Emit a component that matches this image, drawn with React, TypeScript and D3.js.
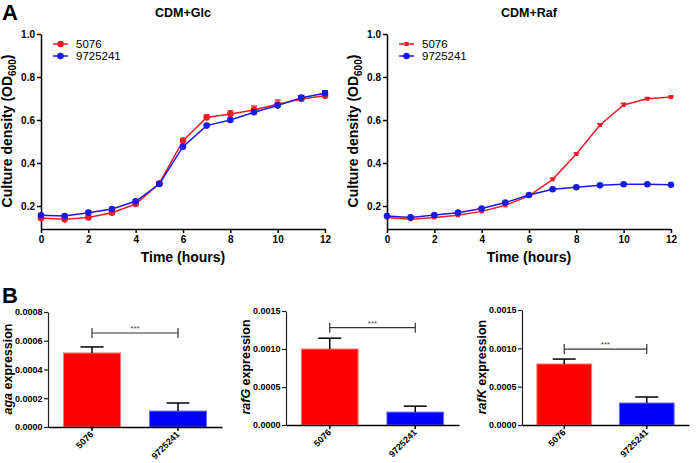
import React, { useEffect, useRef } from 'react'
import * as d3 from 'd3'

// growth curves, OD600 per hour
const hours = [0, 1, 2, 3, 4, 5, 6, 7, 8, 9, 10, 11, 12]
const glc5076 = [0.144, 0.138, 0.147, 0.169, 0.209, 0.305, 0.504, 0.612, 0.628, 0.647, 0.673, 0.698, 0.713]
const glc5076Err = [0.005, 0.005, 0.005, 0.005, 0.006, 0.007, 0.008, 0.011, 0.015, 0.018, 0.02, 0.012, 0.01]
const glc9725241 = [0.157, 0.153, 0.169, 0.186, 0.222, 0.302, 0.476, 0.574, 0.6, 0.636, 0.667, 0.704, 0.724]
const glc9725241Err = [0.004, 0.004, 0.004, 0.004, 0.005, 0.006, 0.007, 0.006, 0.008, 0.01, 0.011, 0.01, 0.012]
const raf5076 = [0.147, 0.138, 0.147, 0.157, 0.175, 0.203, 0.247, 0.324, 0.442, 0.577, 0.67, 0.699, 0.707]
const raf5076Err = [0.004, 0.004, 0.003, 0.003, 0.004, 0.004, 0.005, 0.005, 0.005, 0.005, 0.008, 0.004, 0.004]
const raf9725241 = [0.153, 0.147, 0.158, 0.169, 0.188, 0.216, 0.251, 0.278, 0.287, 0.296, 0.301, 0.301, 0.299]
const raf9725241Err = [0.004, 0.003, 0.003, 0.003, 0.004, 0.004, 0.004, 0.004, 0.004, 0.004, 0.004, 0.004, 0.004]
const densityTicks = [0.2, 0.4, 0.6, 0.8, 1.0]
const hourTicks = [0, 2, 4, 6, 8, 10, 12]

// expression bars
const strains = ['5076', '9725241']
const agaMean = [0.000515, 0.000111]
const agaErr = [0.000042, 0.000056]
const agaTicks = [0, 0.0002, 0.0004, 0.0006, 0.0008]
const rafGMean = [0.001, 0.00017]
const rafGErr = [0.000142, 0.000078]
const rafKMean = [0.000796, 0.000287]
const rafKErr = [0.000064, 0.000078]
const rafTicks = [0, 0.0005, 0.001, 0.0015]
const bracketLevels = [0.000654, 0.00128, 0.00099]

const RED = '#ee1c24'
const BLUE = '#1a1ae6'
const FONT = 'Liberation Sans, Arial, Helvetica, sans-serif'

function styleAxis(g: any, fontSize: number) {
  g.attr('font-family', FONT).attr('font-size', fontSize).attr('font-weight', 'bold')
  g.selectAll('path').attr('stroke', '#000').attr('stroke-width', 1.5)
  g.selectAll('line').attr('stroke', '#000').attr('stroke-width', 1.5)
  g.selectAll('text').attr('fill', '#000')
}

function drawGrowth(svg: any, o: any) {
  const x = d3.scaleLinear().domain([0, 12]).range([o.left, o.left + 284])
  const y = d3.scaleLinear().domain([0.093, 1.0]).range([229, 34])

  const xa = svg.append('g').attr('transform', 'translate(0,229)')
    .call(d3.axisBottom(x).tickValues(hourTicks).tickSize(4).tickSizeOuter(0).tickPadding(3).tickFormat(d3.format('d')))
  styleAxis(xa, 10)
  const ya = svg.append('g').attr('transform', 'translate(' + o.left + ',0)')
    .call(d3.axisLeft(y).tickValues(densityTicks).tickSize(4).tickSizeOuter(0).tickPadding(2).tickFormat(d3.format('.1f')))
  styleAxis(ya, 10)

  svg.append('text').attr('x', o.left + 142).attr('y', 17).attr('text-anchor', 'middle')
    .attr('font-family', FONT).attr('font-weight', 'bold').attr('font-size', 12.5).text(o.title)
  svg.append('text').attr('x', o.left + 142).attr('y', 262).attr('text-anchor', 'middle')
    .attr('font-family', FONT).attr('font-weight', 'bold').attr('font-size', 14).text('Time (hours)')

  const yl = svg.append('text').attr('transform', 'translate(' + (o.left - 29) + ',131) rotate(-90)')
    .attr('text-anchor', 'middle').attr('font-family', FONT).attr('font-weight', 'bold').attr('font-size', 14)
  yl.append('tspan').text('Culture density (OD')
  yl.append('tspan').attr('font-size', 10).attr('dy', 4).text('600')
  yl.append('tspan').attr('dy', -4).text(')')

  const line = d3.line<number>().x((d, i) => x(hours[i])).y(d => y(d))

  o.series.forEach((s: any) => {
    const g = svg.append('g')
    g.selectAll('line.err').data(s.values).enter().append('line')
      .attr('x1', (d: number, i: number) => x(hours[i])).attr('x2', (d: number, i: number) => x(hours[i]))
      .attr('y1', (d: number, i: number) => y(d - s.err[i])).attr('y2', (d: number, i: number) => y(d + s.err[i]))
      .attr('stroke', s.color).attr('stroke-width', 1.3)
    g.selectAll('line.cap').data(s.values).enter().append('line')
      .attr('x1', (d: number, i: number) => x(hours[i]) - 3).attr('x2', (d: number, i: number) => x(hours[i]) + 3)
      .attr('y1', (d: number, i: number) => y(d + s.err[i])).attr('y2', (d: number, i: number) => y(d + s.err[i]))
      .attr('stroke', s.color).attr('stroke-width', 1.3)
    g.append('path').datum(s.values).attr('d', line).attr('fill', 'none')
      .attr('stroke', s.color).attr('stroke-width', 1.5)
    if (s.square) {
      g.selectAll('rect').data(s.values).enter().append('rect')
        .attr('x', (d: number, i: number) => x(hours[i]) - 2).attr('y', (d: number) => y(d) - 2)
        .attr('width', 4).attr('height', 4).attr('fill', s.color)
    } else {
      g.selectAll('circle').data(s.values).enter().append('circle')
        .attr('cx', (d: number, i: number) => x(hours[i])).attr('cy', (d: number) => y(d))
        .attr('r', 3.3).attr('fill', s.color)
    }
  })

  // legend
  o.series.forEach((s: any, i: number) => {
    const ly = 44 + i * 12
    const lx = o.left + 12
    svg.append('line').attr('x1', lx).attr('x2', lx + 15).attr('y1', ly).attr('y2', ly)
      .attr('stroke', s.color).attr('stroke-width', 1.5)
    if (s.square) {
      svg.append('rect').attr('x', lx + 5.5).attr('y', ly - 2).attr('width', 4).attr('height', 4).attr('fill', s.color)
    } else {
      svg.append('circle').attr('cx', lx + 7.5).attr('cy', ly).attr('r', 3.3).attr('fill', s.color)
    }
    svg.append('text').attr('x', lx + 23).attr('y', ly + 4).attr('font-family', FONT)
      .attr('font-size', 11.5).text(s.name)
  })
}

function drawBars(svg: any, o: any) {
  const x = d3.scaleBand().domain(strains).range([o.left, o.right]).paddingInner(0.337).paddingOuter(0.18)
  const y = d3.scaleLinear().domain([0, o.max]).range([o.bottom, o.top])

  svg.selectAll(null).data(strains).enter().append('rect')
    .attr('x', (d: string) => x(d)).attr('width', x.bandwidth())
    .attr('y', (d: string, i: number) => y(o.mean[i])).attr('height', (d: string, i: number) => o.bottom - y(o.mean[i]))
    .attr('fill', (d: string, i: number) => (i === 0 ? '#ff0000' : '#0000ff'))
    .attr('stroke', (d: string, i: number) => (i === 0 ? '#ff7a7a' : '#6a6aff')).attr('stroke-width', 1)

  const cx = (d: string) => (x(d) as number) + x.bandwidth() / 2
  svg.selectAll(null).data(strains).enter().append('line')
    .attr('x1', cx).attr('x2', cx)
    .attr('y1', (d: string, i: number) => y(o.mean[i])).attr('y2', (d: string, i: number) => y(o.mean[i] + o.err[i]))
    .attr('stroke', '#000').attr('stroke-width', 1.5)
  svg.selectAll(null).data(strains).enter().append('line')
    .attr('x1', (d: string) => cx(d) - 11.5).attr('x2', (d: string) => cx(d) + 11.5)
    .attr('y1', (d: string, i: number) => y(o.mean[i] + o.err[i])).attr('y2', (d: string, i: number) => y(o.mean[i] + o.err[i]))
    .attr('stroke', '#000').attr('stroke-width', 1.5)

  const ya = svg.append('g').attr('transform', 'translate(' + o.left + ',0)')
    .call(d3.axisLeft(y).tickValues(o.ticks).tickSize(4).tickSizeOuter(0).tickPadding(1.5).tickFormat(d3.format('.4f')))
  styleAxis(ya, 9)
  ya.selectAll('path,line').attr('stroke', '#222').attr('stroke-width', 1.2)

  const xa = svg.append('g').attr('transform', 'translate(0,' + o.bottom + ')')
    .call(d3.axisBottom(x).tickSize(4).tickSizeOuter(0))
  styleAxis(xa, 9)
  xa.selectAll('text').attr('text-anchor', 'end').attr('dy', 0).attr('y', 0)
    .attr('transform', 'translate(2,8) rotate(-45)')

  // significance bracket
  const by = y(o.bracket)
  const x1 = cx(strains[0])
  const x2 = cx(strains[1])
  const bg = svg.append('g').attr('stroke', '#333').attr('stroke-width', 1.2)
  bg.append('line').attr('x1', x1).attr('x2', x2).attr('y1', by).attr('y2', by)
  bg.append('line').attr('x1', x1).attr('x2', x1).attr('y1', by - 5).attr('y2', by + 5)
  bg.append('line').attr('x1', x2).attr('x2', x2).attr('y1', by - 5).attr('y2', by + 5)
  svg.append('text').attr('x', (x1 + x2) / 2).attr('y', by - 2).attr('text-anchor', 'middle')
    .attr('font-family', FONT).attr('font-size', 8).attr('fill', '#444').text('***')

  const yl = svg.append('text').attr('transform', 'translate(' + o.labelX + ',' + o.labelY + ') rotate(-90)')
    .attr('text-anchor', 'middle').attr('font-family', FONT).attr('font-weight', 'bold').attr('font-size', 12.5)
  yl.append('tspan').attr('font-style', 'italic').text(o.gene)
  yl.append('tspan').text(' expression')
}

export default function App() {
  const ref = useRef<SVGSVGElement>(null)

  useEffect(() => {
    const svg = d3.select(ref.current)
    svg.selectAll('*').remove()

    svg.append('text').attr('x', 2).attr('y', 20).attr('font-family', FONT).attr('font-weight', 'bold')
      .attr('font-size', 22).text('A')
    svg.append('text').attr('x', 2).attr('y', 303).attr('font-family', FONT).attr('font-weight', 'bold')
      .attr('font-size', 22).text('B')

    drawGrowth(svg, {
      left: 41, title: 'CDM+Glc',
      series: [
        { name: '5076', values: glc5076, err: glc5076Err, color: RED },
        { name: '9725241', values: glc9725241, err: glc9725241Err, color: BLUE },
      ],
    })
    drawGrowth(svg, {
      left: 387, title: 'CDM+Raf',
      series: [
        { name: '5076', values: raf5076, err: raf5076Err, color: RED, square: true },
        { name: '9725241', values: raf9725241, err: raf9725241Err, color: BLUE },
      ],
    })

    drawBars(svg, { left: 48, right: 222, top: 312, bottom: 427, max: 0.0008, ticks: agaTicks,
      mean: agaMean, err: agaErr, bracket: bracketLevels[0], gene: 'aga', labelX: 12, labelY: 369 })
    drawBars(svg, { left: 286, right: 459, top: 311, bottom: 425, max: 0.0015, ticks: rafTicks,
      mean: rafGMean, err: rafGErr, bracket: bracketLevels[1], gene: 'rafG', labelX: 250, labelY: 367 })
    drawBars(svg, { left: 522, right: 689, top: 310, bottom: 425, max: 0.0015, ticks: rafTicks,
      mean: rafKMean, err: rafKErr, bracket: bracketLevels[2], gene: 'rafK', labelX: 486, labelY: 367 })
  }, [])

  return (
    <svg ref={ref} width={696} height={463} style={{ position: 'absolute', left: 0, top: 0, background: '#fff' }} />
  )
}
